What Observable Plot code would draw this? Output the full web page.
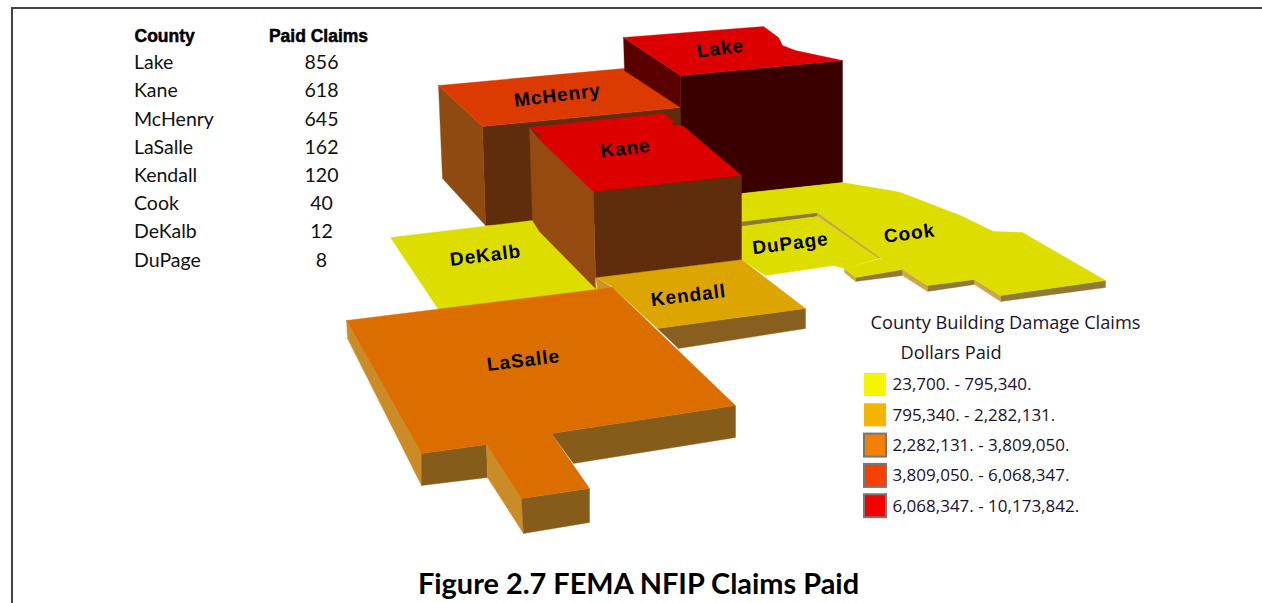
<!DOCTYPE html>
<html><head><meta charset="utf-8">
<style>html,body{margin:0;padding:0;background:#fff}svg{display:block}.maplabel text{letter-spacing:1px}</style>
<script src="https://cdn.jsdelivr.net/npm/d3@7"></script>
<script src="https://cdn.jsdelivr.net/npm/@observablehq/plot@0.6"></script>
</head><body><script>
// table
const counties = ["Lake","Kane","McHenry","LaSalle","Kendall","Cook","DeKalb","DuPage"];
const paidClaims = [856,618,645,162,120,40,12,8];
// legend
const legendTitle = ["County Building Damage Claims","Dollars Paid"];
const legendLabels = ["23,700. - 795,340.","795,340. - 2,282,131.","2,282,131. - 3,809,050.","3,809,050. - 6,068,347.","6,068,347. - 10,173,842."];
const legendColors = ["#f5f500","#f5b400","#f57f00","#f54000","#f50000"];
const legendBorders = ["none","none","#777777","#777777","#777777"];
// map labels
const mapLabels = ["Lake","McHenry","Kane","DeKalb","Kendall","DuPage","Cook","LaSalle"];
const mapLabelX = [720,557,625,485,688,790,909,523];
const mapLabelY = [48,95,148,255,295,243,233,360];
// map faces, as outlines, in paint order
const mcHenryFront = [[482,126],[680,107],[680,222],[485,225]];
const mcHenryLeft = [[438,85],[482,126],[485,225],[442,178]];
const mcHenryTop = [[438,85],[623,68],[680,107],[482,126]];
const lakeLeft = [[623,37],[680,75],[680,107],[624,70]];
const lakeFront = [[680,75],[842,60],[842,182],[741,193],[680,200]];
const lakeTop = [[623,37],[763,26],[778,37],[782,45],[795,50],[842,60],[680,75]];
const cookTop = [[741,193],[842,182],[890,190],[900,192],[960,215],[993,231],[1022,232],[1105,280],[1000,295],[974,279],[927,285],[902,269],[855,277],[844,268],[881,258],[817,212],[741,221]];
const cookFaces = [[[855,277],[902,269],[902,275],[855,281]],[[927,285],[974,279],[974,284],[927,291]],[[1000,295],[1105,280],[1105,287],[1000,301]],[[741,221],[817,212],[817,216],[741,226]]];
const cookSides = [[[844,268],[855,277],[855,281],[844,272]],[[902,269],[927,285],[927,291],[902,275]],[[974,279],[1000,295],[1000,301],[974,284]],[[817,212],[881,257],[877,258],[817,216]]];
const duPageTop = [[741,226],[817,216],[878,258],[845,268],[833,265],[765,275],[741,259]];
const deKalbTop = [[390,237],[532,220],[545,228],[600,290],[438,309]];
const kendallFront = [[657,328],[805,308],[805,328],[678,348]];
const kendallSide = [[595,277],[612,287],[598,292]];
const kendallTop = [[595,277],[741,259],[805,308],[657,328],[610,285]];
const kaneLeft = [[529,127],[537,137],[593,191],[595,288],[539,231],[532,220]];
const kaneFront = [[593,191],[741,175],[741,259],[595,277]];
const kaneTop = [[529,127],[664,113],[672,120],[672,125],[682,125],[741,175],[593,191],[537,137],[542,136]];
const laSalleLeft = [[346,320],[421,453],[421,485],[347,338]];
const laSalleFrontA = [[421,453],[486,444],[487,477],[421,485]];
const laSalleNotchSide = [[486,444],[521,498],[523,533],[487,477]];
const laSalleNotchFront = [[521,498],[589,488],[589,522],[523,533]];
const laSalleFrontB = [[551,433],[735,405],[735,437],[573,463]];
const laSalleTop = [[346,320],[612,287],[735,405],[551,433],[589,488],[521,498],[486,444],[421,453]];

const yellow="#dddd00", tan="#c9a84a", olive="#8f7a35";
const faces = [
  [mcHenryFront,"#5f2d0c"],[mcHenryLeft,"#8f4a12"],[mcHenryTop,"#db3b00"],
  [lakeFront,"#3a0000"],[lakeLeft,"#5a0000"],[lakeTop,"#dd0000"],
  ...cookFaces.map(f=>[f,olive]),...cookSides.map(f=>[f,tan]),
  [cookTop,yellow],[duPageTop,yellow],[deKalbTop,yellow],
  [kendallFront,"#885f1e"],[kendallSide,"#cf9028"],[kendallTop,"#dca500"],
  [kaneFront,"#5f2d0c"],[kaneLeft,"#954a10"],[kaneTop,"#dd0000"],
  [laSalleLeft,"#cb8c28"],[laSalleFrontA,"#855c1a"],[laSalleFrontB,"#855c1a"],
  [laSalleNotchSide,"#cb8c28"],[laSalleNotchFront,"#855c1a"],[laSalleTop,"#dc6e00"]
];
const faceMarks = faces.map(([ring,color])=>Plot.line([...ring,ring[0]],{x:d=>d[0],y:d=>d[1],fill:color,stroke:color,strokeWidth:0.4}));

const tableFont="Lato", legendFont="'Open Sans'";
const legendRows = legendLabels.map((label,i)=>({label,color:legendColors[i],border:legendBorders[i],top:373+i*30.3}));
const chart = Plot.plot({
  width:1262,height:603,margin:0,
  x:{domain:[0,1262],range:[0,1262],axis:null},
  y:{domain:[0,603],range:[0,603],axis:null},
  marks:[
    Plot.ruleY([7.5],{x1:11,x2:1262,stroke:"#444",strokeWidth:2}),
    Plot.ruleX([11.5],{y1:7,y2:603,stroke:"#444",strokeWidth:2}),
    ...faceMarks,
    Plot.text(mapLabels,{x:(d,i)=>mapLabelX[i],y:(d,i)=>mapLabelY[i],text:d=>d,rotate:-7,fontSize:19,fontWeight:"bold",fontFamily:"Liberation Sans",fill:"#000",className:"maplabel"}),
    Plot.text(["County"],{x:134,y:36,text:d=>d,textAnchor:"start",fontSize:17.5,fontWeight:900,fontFamily:"Liberation Sans",stroke:"#000",strokeWidth:0.5,fill:"#000"}),
    Plot.text(["Paid Claims"],{x:318,y:36,text:d=>d,fontSize:17.5,fontWeight:900,fontFamily:"Liberation Sans",stroke:"#000",strokeWidth:0.5,fill:"#000"}),
    Plot.text(counties,{x:133.5,y:(d,i)=>62.5+i*28.2,text:d=>d,textAnchor:"start",fontSize:19.5,fontFamily:tableFont,fill:"#111"}),
    Plot.text(paidClaims,{x:321,y:(d,i)=>62.5+i*28.2,text:d=>String(d),fontSize:19.5,fontFamily:tableFont,fill:"#111"}),
    Plot.text([legendTitle[0]],{x:870,y:323,text:d=>d,textAnchor:"start",fontSize:18.2,fontFamily:legendFont,fill:"#1a1030"}),
    Plot.text([legendTitle[1]],{x:900,y:353,text:d=>d,textAnchor:"start",fontSize:18.2,fontFamily:legendFont,fill:"#1a1030"}),
    Plot.rect(legendRows,{x1:864,x2:886,y1:d=>d.top,y2:d=>d.top+23,fill:d=>d.color,stroke:d=>d.border,strokeWidth:2}),
    Plot.text(legendRows,{x:892,y:d=>d.top+11.5,text:"label",textAnchor:"start",fontSize:17,fontFamily:legendFont,fill:"#1a1030"}),
    Plot.text(["Figure 2.7 FEMA NFIP Claims Paid"],{x:638,y:584,text:d=>d,fontSize:28.9,fontWeight:"bold",fontFamily:"Lato",fill:"#000"})
  ]
});
document.body.append(chart);
</script></body></html>
